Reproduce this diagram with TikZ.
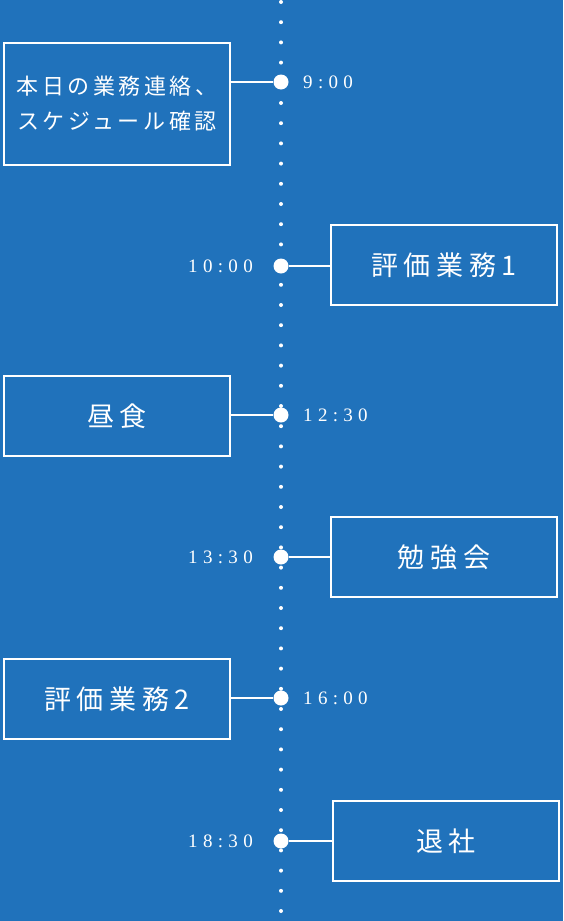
\documentclass[tikz,border=0pt]{standalone}
\usepackage{fontspec}
\setmainfont{Liberation Serif}
\newfontfamily\jpfont[LetterSpace=21]{Noto Sans CJK JP}
\newfontfamily\jpnho[LetterSpace=16]{Noto Sans CJK JP}
\newfontfamily\numfont[LetterSpace=28]{Liberation Serif}
\usepackage{xcolor}
\usetikzlibrary{calc, positioning}
\definecolor{nenxanh}{RGB}{32,114,187}

\begin{document}
\begin{tikzpicture}[x=1pt, y=-1pt,
    hop/.style={draw=white, line width=2pt, minimum width=226pt, minimum height=80pt,
        inner sep=0pt, text=white, align=center, font=\jpfont\fontsize{27}{34}\selectfont},
    moc/.style={circle, fill=white, inner sep=0pt, minimum size=15pt},
    gio/.style={text=white, inner sep=0pt, font=\numfont\fontsize{19}{19}\selectfont},
    noi/.style={draw=white, line width=2pt}]
    % Nền
    \useasboundingbox (0,0) rectangle (563,921);
    \fill[nenxanh] (0,0) rectangle (563,921);

    % Trục thời gian chấm
    \foreach \k in {0,...,45}
        \fill[white] (281,{2+20.2*\k}) circle (2pt);

    % Các mốc
    \node[moc] (m1) at (281,82) {};
    \node[moc] (m2) at (281,266) {};
    \node[moc] (m3) at (281,415) {};
    \node[moc] (m4) at (281,557) {};
    \node[moc] (m5) at (281,698) {};
    \node[moc] (m6) at (281,841) {};

    % Các ô công việc
    \node[hop, minimum height=122pt, font=\jpnho\fontsize{22}{35}\selectfont] (b1) at (117,104)
        {本日の業務連絡、\\スケジュール確認};
    \node[hop] (b2) at (444,265) {評価業務1};
    \node[hop] (b3) at (117,416) {昼食};
    \node[hop] (b4) at (444,557) {勉強会};
    \node[hop] (b5) at (117,699) {評価業務2};
    \node[hop] (b6) at (446,841) {退社};

    % Nối ô với mốc
    \draw[noi] (b1.east |- m1) -- (m1);
    \draw[noi] (m2) -- (b2.west |- m2);
    \draw[noi] (b3.east |- m3) -- (m3);
    \draw[noi] (m4) -- (b4.west |- m4);
    \draw[noi] (b5.east |- m5) -- (m5);
    \draw[noi] (m6) -- (b6.west |- m6);

    % Giờ
    \node[gio, anchor=west] (g1) at (303,82) {9:00};
    \node[gio, anchor=east] (g2) at (253,266) {10:00};
    \node[gio, anchor=west] (g3) at (303,415) {12:30};
    \node[gio, anchor=east] (g4) at (253,557) {13:30};
    \node[gio, anchor=west] (g5) at (303,698) {16:00};
    \node[gio, anchor=east] (g6) at (253,841) {18:30};
\end{tikzpicture}
\end{document}
